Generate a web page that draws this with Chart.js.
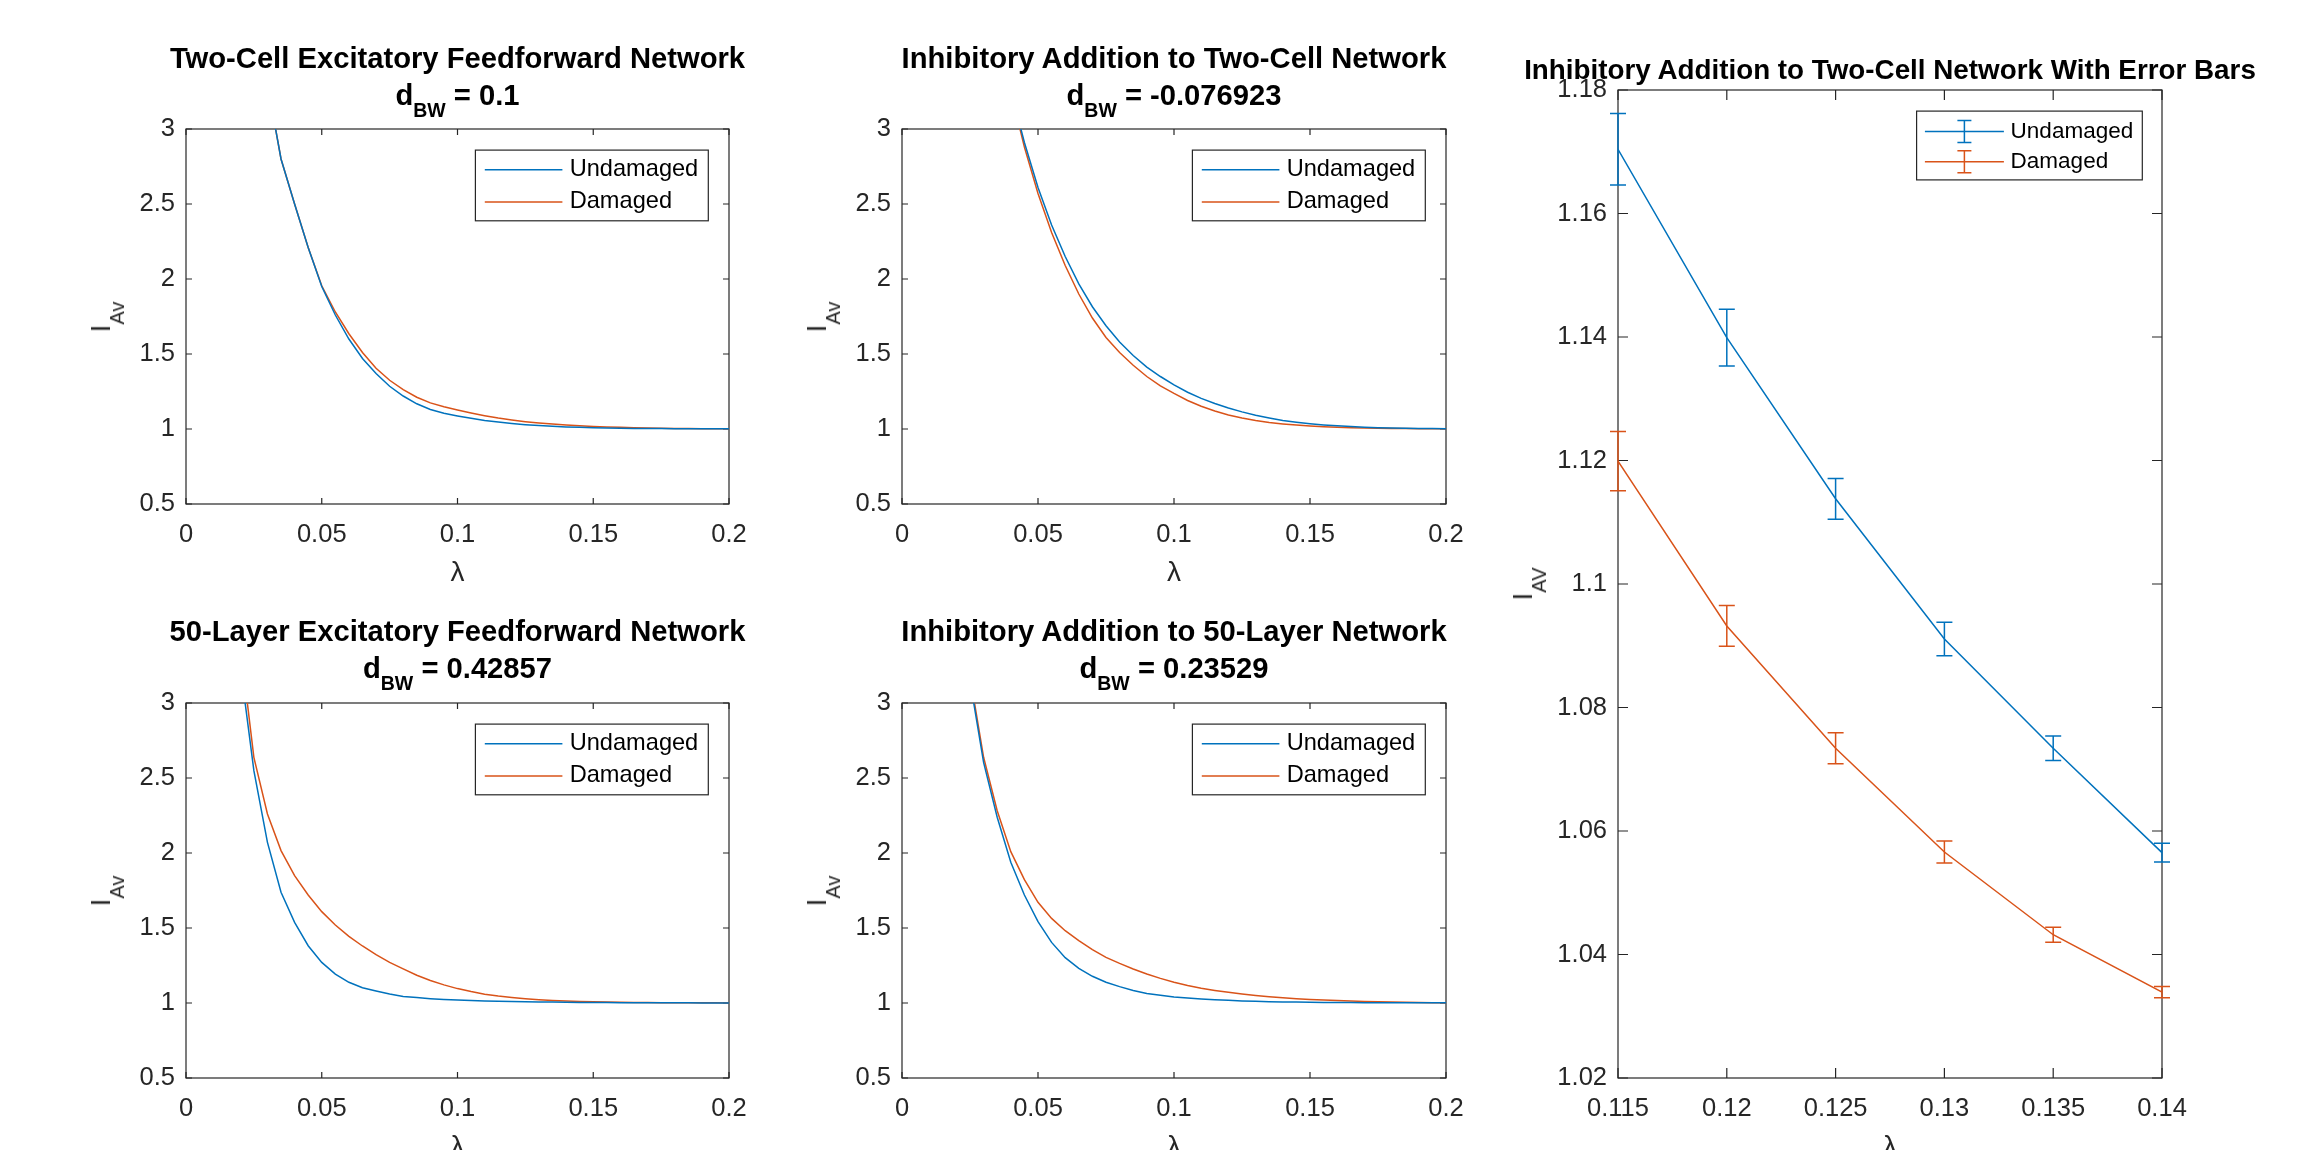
<!DOCTYPE html>
<html>
<head>
<meta charset="utf-8">
<title>Damaged vs undamaged networks</title>
<script src="https://cdn.jsdelivr.net/npm/chart.js@4.4.1/dist/chart.umd.min.js"></script>
<style>
body { margin: 0; width: 2310px; height: 1150px; overflow: hidden; background: #fff; position: relative; font-family: "Liberation Sans", Arial, sans-serif; }
canvas { position: absolute; }
.ttl { position: absolute; width: 800px; text-align: center; font-weight: bold; font-size: 29.2px; line-height: 34px; color: #000; white-space: nowrap; }
.ttl sub { font-size: 19.5px; position: relative; top: 12px; vertical-align: baseline; line-height: 0; }
.ttl.wide { font-size: 27.8px; }
.ylab { position: absolute; font-size: 28px; line-height: 34px; color: #262626; white-space: nowrap; transform: translate(-50%, -50%) rotate(-90deg); }
.ylab sub { font-size: 20px; position: relative; top: 14px; vertical-align: baseline; line-height: 0; }
</style>
</head>
<body>
<canvas id="c1" width="770" height="600" style="left:0px;top:0px"></canvas>
<canvas id="c2" width="770" height="600" style="left:716px;top:0px"></canvas>
<canvas id="c4" width="770" height="600" style="left:0px;top:574px"></canvas>
<canvas id="c5" width="770" height="600" style="left:716px;top:574px"></canvas>
<canvas id="c3" width="812" height="1174" style="left:1498px;top:0px"></canvas>

<div class="ttl" style="left:57.5px;top:40.6px">Two-Cell Excitatory Feedforward Network</div>
<div class="ttl" style="left:57.5px;top:78.3px">d<sub>BW</sub> = 0.1</div>
<div class="ttl" style="left:774px;top:40.6px">Inhibitory Addition to Two-Cell Network</div>
<div class="ttl" style="left:774px;top:78.3px">d<sub>BW</sub> = -0.076923</div>
<div class="ttl" style="left:57.5px;top:614.1px">50-Layer Excitatory Feedforward Network</div>
<div class="ttl" style="left:57.5px;top:651px">d<sub>BW</sub> = 0.42857</div>
<div class="ttl" style="left:774px;top:614.1px">Inhibitory Addition to 50-Layer Network</div>
<div class="ttl" style="left:774px;top:651px">d<sub>BW</sub> = 0.23529</div>
<div class="ttl wide" style="left:1490px;top:52.9px">Inhibitory Addition to Two-Cell Network With Error Bars</div>

<div class="ylab" style="left:100.8px;top:316.5px">I<sub>Av</sub></div>
<div class="ylab" style="left:817px;top:316.5px">I<sub>Av</sub></div>
<div class="ylab" style="left:100.8px;top:890.5px">I<sub>Av</sub></div>
<div class="ylab" style="left:817px;top:890.5px">I<sub>Av</sub></div>
<div class="ylab" style="left:1523px;top:584px">I<sub>AV</sub></div>

<script>
// lambda grid shared by the four curve panels
const lambda = [0, 0.005, 0.01, 0.015, 0.02, 0.025, 0.03, 0.035, 0.04, 0.045, 0.05, 0.055, 0.06, 0.065, 0.07, 0.075, 0.08, 0.085, 0.09, 0.095, 0.1,
    0.105, 0.11, 0.115, 0.12, 0.125, 0.13, 0.135, 0.14, 0.145, 0.15, 0.155, 0.16, 0.165, 0.17, 0.175, 0.18, 0.185, 0.19, 0.195, 0.2];

const twoCellUndamaged = [null, null, null, null, null, null, 3.30, 2.80, 2.50, 2.21, 1.95, 1.76, 1.60, 1.47, 1.37, 1.285, 1.22, 1.168, 1.13, 1.105, 1.087,
    1.071, 1.057, 1.046, 1.037, 1.029, 1.023, 1.018, 1.014, 1.011, 1.009, 1.007, 1.005, 1.004, 1.003, 1.003, 1.002, 1.002, 1.001, 1.001, 1.001];
const twoCellDamaged = [null, null, null, null, null, null, 3.30, 2.80, 2.50, 2.21, 1.955, 1.78, 1.635, 1.51, 1.405, 1.325, 1.262, 1.212, 1.174, 1.148, 1.127,
    1.107, 1.089, 1.073, 1.06, 1.049, 1.04, 1.033, 1.027, 1.022, 1.017, 1.014, 1.011, 1.009, 1.007, 1.005, 1.004, 1.003, 1.002, 1.002, 1.001];

const inhTwoCellUndamaged = [null, null, null, null, null, null, null, null, 3.26, 2.91, 2.61, 2.36, 2.15, 1.967, 1.815, 1.688, 1.58, 1.49, 1.413, 1.35, 1.294,
    1.245, 1.204, 1.170, 1.140, 1.114, 1.091, 1.073, 1.0565, 1.045, 1.035, 1.027, 1.021, 1.016, 1.012, 1.009, 1.007, 1.005, 1.004, 1.003, 1.002];
const inhTwoCellDamaged = [null, null, null, null, null, null, null, null, 3.25, 2.88, 2.57, 2.31, 2.09, 1.90, 1.74, 1.61, 1.51, 1.425, 1.35, 1.287, 1.237,
    1.19, 1.152, 1.120, 1.093, 1.0734, 1.0566, 1.0432, 1.0339, 1.026, 1.020, 1.015, 1.012, 1.009, 1.007, 1.005, 1.004, 1.003, 1.002, 1.002, 1.001];

const fiftyLayerUndamaged = [null, null, null, null, 3.25, 2.549, 2.071, 1.738, 1.538, 1.382, 1.271, 1.193, 1.138, 1.102, 1.080, 1.060, 1.044, 1.036, 1.029, 1.024, 1.02,
    1.017, 1.014, 1.012, 1.01, 1.008, 1.007, 1.006, 1.005, 1.004, 1.003, 1.003, 1.002, 1.002, 1.001, 1.001, 1.001, 1.001, 1.0, 1.0, 1.0];
const fiftyLayerDamaged = [null, null, null, null, 3.39, 2.638, 2.26, 2.016, 1.849, 1.72, 1.609, 1.52, 1.444, 1.38, 1.322, 1.271, 1.227, 1.185, 1.150, 1.121, 1.096,
    1.076, 1.059, 1.046, 1.036, 1.028, 1.022, 1.017, 1.013, 1.01, 1.008, 1.006, 1.005, 1.004, 1.003, 1.002, 1.002, 1.001, 1.001, 1.001, 1.0];

const inhFiftyUndamaged = [null, null, null, null, null, 3.15, 2.604, 2.238, 1.938, 1.72, 1.542, 1.404, 1.302, 1.231, 1.178, 1.138, 1.109, 1.084, 1.064, 1.051, 1.04,
    1.033, 1.027, 1.022, 1.018, 1.014, 1.011, 1.009, 1.007, 1.006, 1.005, 1.004, 1.003, 1.003, 1.002, 1.002, 1.001, 1.001, 1.001, 1.001, 1.001];
const inhFiftyDamaged = [null, null, null, null, null, 3.18, 2.638, 2.282, 2.009, 1.822, 1.671, 1.564, 1.482, 1.416, 1.356, 1.304, 1.264, 1.227, 1.193, 1.164, 1.138,
    1.117, 1.099, 1.084, 1.071, 1.06, 1.05, 1.042, 1.035, 1.029, 1.024, 1.02, 1.016, 1.013, 1.01, 1.008, 1.006, 1.005, 1.003, 1.002, 1.001];

// error bar panel
const errLambda = [0.115, 0.12, 0.125, 0.13, 0.135, 0.14];
const errUndamaged = [1.1704, 1.1399, 1.1138, 1.0911, 1.0734, 1.0565];
const errUndamagedDelta = [0.0058, 0.0046, 0.0033, 0.0027, 0.0020, 0.0015];
const errDamaged = [1.1199, 1.0932, 1.0734, 1.0566, 1.0432, 1.0339];
const errDamagedDelta = [0.0048, 0.0033, 0.0025, 0.0018, 0.0012, 0.0009];

// ticks
const curveXTicks = [0, 0.05, 0.1, 0.15, 0.2];
const curveXTickLabels = ['0', '0.05', '0.1', '0.15', '0.2'];
const curveYTicks = [0.5, 1, 1.5, 2, 2.5, 3];
const curveYTickLabels = ['0.5', '1', '1.5', '2', '2.5', '3'];
const errXTicks = [0.115, 0.12, 0.125, 0.13, 0.135, 0.14];
const errXTickLabels = ['0.115', '0.12', '0.125', '0.13', '0.135', '0.14'];
const errYTicks = [1.02, 1.04, 1.06, 1.08, 1.1, 1.12, 1.14, 1.16, 1.18];
const errYTickLabels = ['1.02', '1.04', '1.06', '1.08', '1.1', '1.12', '1.14', '1.16', '1.18'];

const seriesNames = ['Undamaged', 'Damaged'];
const seriesColors = ['#0072BD', '#D95319'];

const FONT = '"Liberation Sans", Arial, sans-serif';
const AXIS_COLOR = '#262626';

// box around the axes with inward ticks on all four sides (matlab look)
const matlabAxes = {
    id: 'matlabAxes',
    beforeDatasetsDraw(chart, args, opts) {
        const {ctx, chartArea: a} = chart;
        const xs = chart.scales.x, ys = chart.scales.y;
        const len = opts.tickLength;
        ctx.save();
        ctx.strokeStyle = AXIS_COLOR;
        ctx.lineWidth = 1.2;
        ctx.beginPath();
        xs.ticks.forEach(t => {
            const px = xs.getPixelForValue(t.value);
            ctx.moveTo(px, a.bottom); ctx.lineTo(px, a.bottom - len);
            ctx.moveTo(px, a.top); ctx.lineTo(px, a.top + len);
        });
        ys.ticks.forEach(t => {
            const py = ys.getPixelForValue(t.value);
            ctx.moveTo(a.left, py); ctx.lineTo(a.left + len, py);
            ctx.moveTo(a.right, py); ctx.lineTo(a.right - len, py);
        });
        ctx.stroke();
        ctx.strokeRect(a.left, a.top, a.right - a.left, a.bottom - a.top);
        ctx.restore();
    }
};

// vertical error bars with caps
const errorBars = {
    id: 'errorBars',
    afterDatasetsDraw(chart, args, opts) {
        const {ctx} = chart;
        const xs = chart.scales.x, ys = chart.scales.y;
        chart.data.datasets.forEach(ds => {
            if (!ds.errors) return;
            ctx.save();
            ctx.strokeStyle = ds.borderColor;
            ctx.lineWidth = 1.5;
            ctx.beginPath();
            ds.data.forEach((p, i) => {
                const px = xs.getPixelForValue(p.x);
                const lo = ys.getPixelForValue(p.y - ds.errors[i]);
                const hi = ys.getPixelForValue(p.y + ds.errors[i]);
                ctx.moveTo(px, lo); ctx.lineTo(px, hi);
                ctx.moveTo(px - opts.cap, lo); ctx.lineTo(px + opts.cap, lo);
                ctx.moveTo(px - opts.cap, hi); ctx.lineTo(px + opts.cap, hi);
            });
            ctx.stroke();
            ctx.restore();
        });
    }
};

// legend box in the top right corner of the plot area
const boxLegend = {
    id: 'boxLegend',
    afterDraw(chart, args, o) {
        const {ctx, chartArea: a} = chart;
        const left = a.right - o.gapRight - o.width;
        const top = a.top + o.gapTop;
        ctx.save();
        ctx.fillStyle = '#fff';
        ctx.fillRect(left, top, o.width, o.height);
        ctx.strokeStyle = AXIS_COLOR;
        ctx.lineWidth = 1.2;
        ctx.strokeRect(left, top, o.width, o.height);
        chart.data.datasets.forEach((ds, i) => {
            const cy = top + o.rows[i];
            ctx.strokeStyle = ds.borderColor;
            ctx.lineWidth = 1.5;
            ctx.beginPath();
            ctx.moveTo(left + o.lineFrom, cy);
            ctx.lineTo(left + o.lineTo, cy);
            if (o.errorSymbol) {
                const mx = left + (o.lineFrom + o.lineTo) / 2;
                ctx.moveTo(mx, cy - 11); ctx.lineTo(mx, cy + 11);
                ctx.moveTo(mx - 7, cy - 11); ctx.lineTo(mx + 7, cy - 11);
                ctx.moveTo(mx - 7, cy + 11); ctx.lineTo(mx + 7, cy + 11);
            }
            ctx.stroke();
            ctx.fillStyle = '#000';
            ctx.font = o.fontSize + 'px ' + FONT;
            ctx.textAlign = 'left';
            ctx.textBaseline = 'middle';
            ctx.fillText(ds.label, left + o.textFrom, cy);
        });
        ctx.restore();
    }
};

function toPoints(xs, ys) {
    const pts = [];
    for (let i = 0; i < xs.length; i++) {
        if (ys[i] != null) pts.push({x: xs[i], y: ys[i]});
    }
    return pts;
}

function axis(min, max, ticks, labels, pad, extra) {
    return Object.assign({
        type: 'linear', min: min, max: max,
        afterBuildTicks: s => { s.ticks = ticks.map(v => ({value: v})); },
        grid: {display: false, drawTicks: false},
        border: {display: false},
        ticks: {
            padding: pad, color: AXIS_COLOR, autoSkip: false, maxRotation: 0,
            font: {family: FONT, size: 25.5},
            callback: (v, i) => labels[i]
        }
    }, extra);
}

function xAxis(min, max, ticks, labels) {
    return axis(min, max, ticks, labels, 16, {
        afterFit: s => { s.height = 96; },
        title: {display: true, text: 'λ', color: AXIS_COLOR, font: {family: FONT, size: 28}, padding: {top: 0, bottom: 9.6}}
    });
}

function yAxis(min, max, ticks, labels, width) {
    return axis(min, max, ticks, labels, 11, {
        afterFit: s => { s.width = width; }
    });
}

function lineSet(i, data) {
    return {
        label: seriesNames[i], data: data, showLine: true, borderColor: seriesColors[i],
        backgroundColor: seriesColors[i], borderWidth: 1.5, pointRadius: 0, tension: 0
    };
}

function curveChart(id, undamaged, damaged, rightPad) {
    return new Chart(document.getElementById(id), {
        type: 'scatter',
        data: {datasets: [lineSet(0, toPoints(lambda, undamaged)), lineSet(1, toPoints(lambda, damaged))]},
        options: {
            responsive: false, animation: false, devicePixelRatio: 1,
            layout: {padding: {top: 129, right: rightPad, bottom: 0, left: 0}},
            plugins: {
                legend: {display: false}, tooltip: {enabled: false},
                matlabAxes: {tickLength: 6},
                boxLegend: {gapRight: 20.7, gapTop: 21.1, width: 232.9, height: 70.7, rows: [19.6, 51.8], lineFrom: 9.4, lineTo: 87, textFrom: 94.3, fontSize: 23.6}
            },
            scales: {
                x: xAxis(0, 0.2, curveXTicks, curveXTickLabels),
                y: yAxis(0.5, 3, curveYTicks, curveYTickLabels, 186)
            }
        },
        plugins: [matlabAxes, boxLegend]
    });
}

curveChart('c1', twoCellUndamaged, twoCellDamaged, 41);
curveChart('c2', inhTwoCellUndamaged, inhTwoCellDamaged, 40);
curveChart('c4', fiftyLayerUndamaged, fiftyLayerDamaged, 41);
curveChart('c5', inhFiftyUndamaged, inhFiftyDamaged, 40);

const undamagedErr = lineSet(0, toPoints(errLambda, errUndamaged));
undamagedErr.errors = errUndamagedDelta;
const damagedErr = lineSet(1, toPoints(errLambda, errDamaged));
damagedErr.errors = errDamagedDelta;

new Chart(document.getElementById('c3'), {
    type: 'scatter',
    data: {datasets: [undamagedErr, damagedErr]},
    options: {
        responsive: false, animation: false, devicePixelRatio: 1,
        layout: {padding: {top: 90, right: 148, bottom: 0, left: 0}},
        plugins: {
            legend: {display: false}, tooltip: {enabled: false},
            matlabAxes: {tickLength: 10},
            errorBars: {cap: 8},
            boxLegend: {gapRight: 19.7, gapTop: 21.1, width: 225.7, height: 68.8, rows: [20.3, 50.7], lineFrom: 8.3, lineTo: 87.3, textFrom: 94, errorSymbol: true, fontSize: 22.5}
        },
        scales: {
            x: xAxis(0.115, 0.14, errXTicks, errXTickLabels),
            y: yAxis(1.02, 1.18, errYTicks, errYTickLabels, 120)
        }
    },
    plugins: [matlabAxes, errorBars, boxLegend]
});
</script>
</body>
</html>
